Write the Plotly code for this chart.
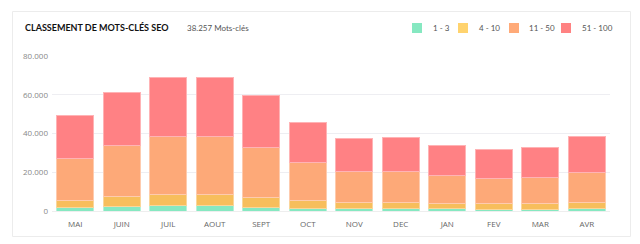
import plotly.graph_objects as go

months = ["MAI", "JUIN", "JUIL", "AOUT", "SEPT", "OCT", "NOV", "DEC", "JAN", "FEV", "MAR", "AVR"]
pos_1_3 = [1700, 2200, 2700, 2700, 2050, 1550, 1100, 1200, 1050, 1000, 1000, 1200]
pos_4_10 = [3970, 5150, 5900, 5900, 5000, 3950, 3200, 3200, 2900, 2800, 2800, 3250]
pos_11_50 = [21290, 26650, 29700, 30100, 25800, 19750, 16300, 16200, 14250, 13200, 13550, 15650]
pos_51_100 = [22440, 27300, 30400, 30400, 26600, 20600, 17000, 17350, 15650, 14600, 15300, 18157]
series_names = ["1 - 3", "4 - 10", "11 - 50", "51 - 100"]
y_ticks = [0, 20000, 40000, 60000, 80000]
y_tick_labels = ["0", "20.000", "40.000", "60.000", "80.000"]
total_label = "38.257 Mots-clés"
title_text = "CLASSEMENT DE MOTS-CLÉS SEO"

fills = ["#86E8C1", "#F7BE5C", "#FDA978", "#FF8184"]
edges = ["#B5F1D9", "#FAD69A", "#FECBAE", "#FFB3B5"]
legend_fills = ["#86E8C1", "#FFD36E", "#FFAA78", "#FF8282"]

fig = go.Figure()
for name, vals, fc, ec in zip(series_names, [pos_1_3, pos_4_10, pos_11_50, pos_51_100], fills, edges):
    fig.add_trace(go.Bar(x=months, y=vals, name=name, showlegend=False,
                         marker=dict(color=fc, line=dict(color=ec, width=1))))

L, R, T, B = 52, 30, 56, 33
W, H = 640, 244
pw, ph = W - L - R, H - T - B

def px_x(p):
    return (p - L) / pw

def px_y(p):
    return (H - B - p) / ph

shapes = [dict(type="rect", xref="paper", yref="paper",
               x0=px_x(12.5), x1=px_x(630.5), y0=px_y(236.5), y1=px_y(11.5),
               line=dict(color="#ececec", width=1), fillcolor="rgba(0,0,0,0)", layer="below")]
annotations = [
    dict(text="<b>" + title_text + "</b>", xref="paper", yref="paper", x=px_x(23), y=px_y(28),
         xanchor="left", yanchor="middle", showarrow=False,
         font=dict(family="Lato, sans-serif", size=9, color="#111111")),
    dict(text=total_label, xref="paper", yref="paper", x=px_x(185), y=px_y(28),
         xanchor="left", yanchor="middle", showarrow=False,
         font=dict(family="Lato, sans-serif", size=8, color="#555555")),
]
# legend (manual, positioned like the reference)
legend_sq_x = [412, 458, 509, 561]
legend_tx_x = [431, 477, 527, 580]
for name, col, sx, tx in zip(series_names, legend_fills, legend_sq_x, legend_tx_x):
    shapes.append(dict(type="rect", xref="paper", yref="paper",
                       x0=px_x(sx), x1=px_x(sx + 10), y0=px_y(33), y1=px_y(23),
                       line=dict(width=0), fillcolor=col))
    annotations.append(dict(text=name, xref="paper", yref="paper", x=px_x(tx), y=px_y(28),
                            xanchor="left", yanchor="middle", showarrow=False,
                            font=dict(family="Lato, sans-serif", size=8, color="#555555")))

fig.update_layout(
    width=W, height=H,
    margin=dict(l=L, r=R, t=T, b=B, pad=0, autoexpand=False),
    barmode="stack", bargap=0.2,
    paper_bgcolor="white", plot_bgcolor="white",
    font=dict(family="Open Sans, sans-serif", color="#777777", size=8),
    showlegend=False,
    xaxis=dict(showgrid=False, showline=True, linecolor="#eeeeee", linewidth=1,
               ticks="", ticklabelstandoff=5,
               tickfont=dict(family="Open Sans, sans-serif", size=8, color="#666666"),
               fixedrange=True),
    yaxis=dict(range=[0, 80000], tickvals=y_ticks, ticktext=y_tick_labels,
               showgrid=True, gridcolor="#eeeef2", gridwidth=1, zeroline=False,
               showline=False, ticks="", ticklabelstandoff=3,
               tickfont=dict(family="Open Sans, sans-serif", size=8, color="#888888")),
    shapes=shapes,
    annotations=annotations,
)

fig.write_html("out.html", config={"displayModeBar": False})
